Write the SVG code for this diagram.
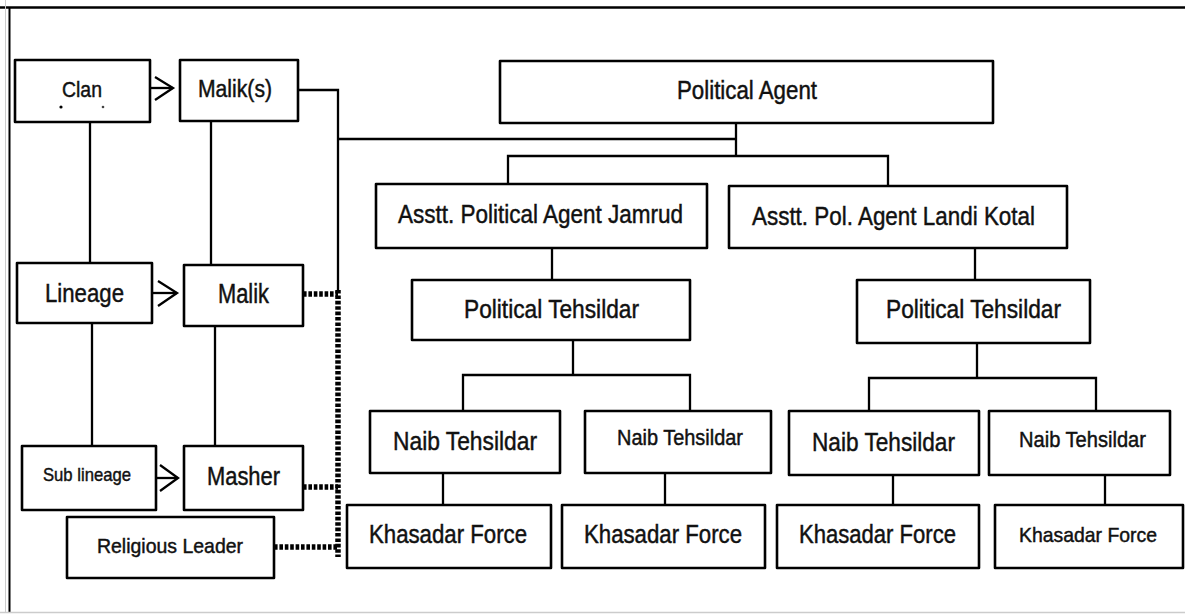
<svg xmlns="http://www.w3.org/2000/svg" width="1185" height="614" viewBox="0 0 1185 614">
<style>
.box{fill:#fff;stroke:#000;stroke-width:2.6;stroke-linejoin:round}
.t{font-family:"Liberation Sans",Arial,sans-serif;fill:#111;stroke:#111;stroke-width:0.45;text-anchor:middle}
.ln{fill:none;stroke:#000;stroke-width:2.3}
.dot{fill:none;stroke:#000;stroke-width:5.5;stroke-dasharray:3.6 1.8}
</style>
<rect width="1185" height="614" fill="#fff"/>
<g id="frame">
<line x1="0" y1="7.5" x2="1185" y2="7.5" stroke="#000" stroke-width="2.5"/>
<line x1="9.5" y1="7" x2="9.5" y2="612" stroke="#000" stroke-width="2"/>
<line x1="5.5" y1="0" x2="5.5" y2="612" stroke="#ccc" stroke-width="1"/>
<line x1="0" y1="612.5" x2="1185" y2="612.5" stroke="#ccc" stroke-width="1.5"/>
</g>
<g id="connectors">
<line class="ln" x1="150" y1="88" x2="173" y2="88"/>
<polyline class="ln" points="155,77 173,88 155,100" stroke-width="2.8"/>
<line class="ln" x1="152" y1="293" x2="177" y2="293"/>
<polyline class="ln" points="158,281 177,293 158,306" stroke-width="2.8"/>
<line class="ln" x1="156" y1="478" x2="178" y2="478" stroke="#555"/>
<polyline class="ln" points="160,465 178,478 160,491" stroke-width="2.8"/>
<line class="ln" x1="90" y1="122" x2="90" y2="263"/>
<line class="ln" x1="92" y1="323" x2="92" y2="446"/>
<line class="ln" x1="211" y1="121" x2="211" y2="265"/>
<line class="ln" x1="215" y1="326" x2="215" y2="446"/>
<polyline class="ln" points="298,90 338,90 338,290"/>
<line class="ln" x1="338" y1="139" x2="736" y2="139"/>
<line class="ln" x1="736" y1="123" x2="736" y2="156"/>
<polyline class="ln" points="508,184 508,156 888,156 888,186"/>
<line class="ln" x1="552" y1="248" x2="552" y2="280"/>
<line class="ln" x1="975" y1="248" x2="975" y2="280"/>
<line class="ln" x1="573" y1="340" x2="573" y2="375"/>
<polyline class="ln" points="463,411 463,375 690,375 690,411"/>
<line class="ln" x1="443" y1="473" x2="443" y2="505"/>
<line class="ln" x1="665" y1="473" x2="665" y2="505"/>
<line class="ln" x1="977" y1="343" x2="977" y2="378"/>
<polyline class="ln" points="869,411 869,378 1096,378 1096,411"/>
<line class="ln" x1="893" y1="475" x2="893" y2="505"/>
<line class="ln" x1="1105" y1="475" x2="1105" y2="505"/>
<line class="dot" x1="338" y1="290" x2="338" y2="557"/>
<line class="dot" x1="303" y1="294" x2="338" y2="294"/>
<line class="dot" x1="303" y1="487" x2="338" y2="487"/>
<line class="dot" x1="274" y1="547" x2="338" y2="547"/>
</g>
<g id="clan"><rect class="box" x="15" y="60" width="135" height="62"/><text class="t" x="82" y="97" font-size="22" textLength="40" lengthAdjust="spacingAndGlyphs">Clan</text><circle cx="61" cy="107" r="1.6"/><circle cx="103" cy="107" r="1.3" fill="#444"/></g>
<g id="maliks"><rect class="box" x="180" y="60" width="118" height="61"/><text class="t" x="235" y="97" font-size="23" textLength="74" lengthAdjust="spacingAndGlyphs">Malik(s)</text></g>
<g id="political-agent"><rect class="box" x="500" y="61" width="493" height="62"/><text class="t" x="747" y="99" font-size="25" textLength="140" lengthAdjust="spacingAndGlyphs">Political Agent</text></g>
<g id="apa-jamrud"><rect class="box" x="376" y="184" width="331" height="64"/><text class="t" x="540.5" y="223" font-size="26" textLength="285" lengthAdjust="spacingAndGlyphs">Asstt. Political Agent Jamrud</text></g>
<g id="apa-landi"><rect class="box" x="729" y="186" width="338" height="62"/><text class="t" x="893.5" y="225" font-size="26" textLength="283" lengthAdjust="spacingAndGlyphs">Asstt. Pol. Agent Landi Kotal</text></g>
<g id="lineage"><rect class="box" x="17" y="263" width="135" height="60"/><text class="t" x="84.5" y="302" font-size="26" textLength="79" lengthAdjust="spacingAndGlyphs">Lineage</text></g>
<g id="malik"><rect class="box" x="184" y="265" width="119" height="61"/><text class="t" x="243.5" y="303" font-size="27" textLength="51" lengthAdjust="spacingAndGlyphs">Malik</text></g>
<g id="pt-left"><rect class="box" x="412" y="280" width="278" height="60"/><text class="t" x="551.5" y="318" font-size="25" textLength="175" lengthAdjust="spacingAndGlyphs">Political Tehsildar</text></g>
<g id="pt-right"><rect class="box" x="857" y="280" width="233" height="63"/><text class="t" x="973.5" y="318" font-size="25" textLength="175" lengthAdjust="spacingAndGlyphs">Political Tehsildar</text></g>
<g id="sub-lineage"><rect class="box" x="22" y="446" width="134" height="64"/><text class="t" x="87" y="481" font-size="19" textLength="88" lengthAdjust="spacingAndGlyphs">Sub lineage</text></g>
<g id="masher"><rect class="box" x="184" y="446" width="119" height="64"/><text class="t" x="243.5" y="485" font-size="25" textLength="73" lengthAdjust="spacingAndGlyphs">Masher</text></g>
<g id="religious-leader"><rect class="box" x="67" y="517" width="207" height="61"/><text class="t" x="170" y="553" font-size="21" textLength="146" lengthAdjust="spacingAndGlyphs">Religious Leader</text></g>
<g id="naib1"><rect class="box" x="370" y="411" width="190" height="62"/><text class="t" x="465" y="450" font-size="26" textLength="144" lengthAdjust="spacingAndGlyphs">Naib Tehsildar</text></g>
<g id="naib2"><rect class="box" x="585" y="411" width="186" height="62"/><text class="t" x="680" y="445" font-size="22" textLength="126" lengthAdjust="spacingAndGlyphs">Naib Tehsildar</text></g>
<g id="naib3"><rect class="box" x="789" y="411" width="190" height="64"/><text class="t" x="883.5" y="451" font-size="26" textLength="143" lengthAdjust="spacingAndGlyphs">Naib Tehsildar</text></g>
<g id="naib4"><rect class="box" x="989" y="411" width="181" height="64"/><text class="t" x="1082.5" y="447" font-size="22" textLength="127" lengthAdjust="spacingAndGlyphs">Naib Tehsildar</text></g>
<g id="khasadar1"><rect class="box" x="347" y="505" width="204" height="63"/><text class="t" x="448" y="543" font-size="25" textLength="158" lengthAdjust="spacingAndGlyphs">Khasadar Force</text></g>
<g id="khasadar2"><rect class="box" x="562" y="505" width="203" height="63"/><text class="t" x="663" y="543" font-size="25" textLength="158" lengthAdjust="spacingAndGlyphs">Khasadar Force</text></g>
<g id="khasadar3"><rect class="box" x="777" y="505" width="202" height="63"/><text class="t" x="877.5" y="543" font-size="25" textLength="157" lengthAdjust="spacingAndGlyphs">Khasadar Force</text></g>
<g id="khasadar4"><rect class="box" x="995" y="505" width="188" height="63"/><text class="t" x="1088" y="542" font-size="21" textLength="138" lengthAdjust="spacingAndGlyphs">Khasadar Force</text></g>
</svg>
